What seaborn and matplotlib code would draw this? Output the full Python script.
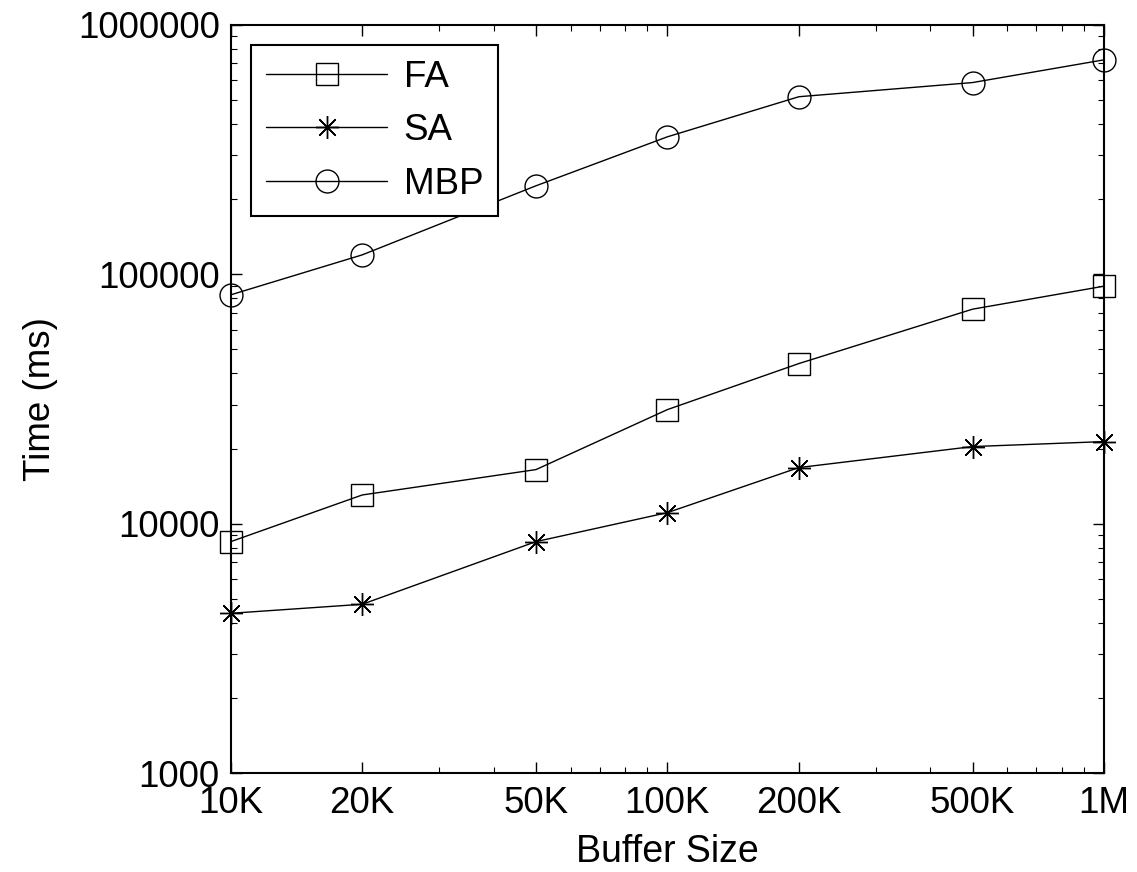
import matplotlib
matplotlib.use("Agg")
import matplotlib.pyplot as plt
import matplotlib.ticker as mticker
import numpy as np
import seaborn as sns

# ── data ──────────────────────────────────────────────────────────────────────
buffer_size = [10_000, 20_000, 50_000, 100_000, 200_000, 500_000, 1_000_000]
buffer_labels = ["10K", "20K", "50K", "100K", "200K", "500K", "1M"]
time_fa  = [8470, 13030, 16470, 28660, 43840, 72440, 89570]
time_sa  = [4370, 4750, 8470, 11070, 16780, 20370, 21330]
time_mbp = [82700, 119600, 226300, 355700, 515000, 587000, 724000]
y_ticks = [1000, 10000, 100000, 1000000]

sns.set_theme(style="ticks")
plt.rcParams["font.family"] = ["Liberation Sans", "DejaVu Sans"]
plt.rcParams.update({"text.color": "black", "axes.labelcolor": "black",
                     "xtick.color": "black", "ytick.color": "black"})
FS = 26.5

fig = plt.figure(figsize=(11.37, 8.72), dpi=100)
ax = fig.add_axes([0.203, 0.1135, 0.768, 0.858])
ax.set_xscale("log"); ax.set_yscale("log")

common = dict(color="black", lw=1.0, markersize=16.5, markerfacecolor="none",
              markeredgecolor="black", markeredgewidth=1.0, clip_on=False, ax=ax)
sns.lineplot(x=buffer_size, y=time_fa,  marker="s", label="FA",  **common)
sns.lineplot(x=buffer_size, y=time_sa,  marker=(8, 2, 0), label="SA", **common)
sns.lineplot(x=buffer_size, y=time_mbp, marker="o", label="MBP", **common)

ax.set_xlim(buffer_size[0], buffer_size[-1])
ax.set_ylim(y_ticks[0], y_ticks[-1])
ax.xaxis.set_major_locator(mticker.FixedLocator(buffer_size))
ax.xaxis.set_major_formatter(mticker.FixedFormatter(buffer_labels))
ax.xaxis.set_minor_locator(mticker.LogLocator(base=10, subs=np.arange(2, 10), numticks=20))
ax.xaxis.set_minor_formatter(mticker.NullFormatter())
ax.yaxis.set_major_locator(mticker.FixedLocator(y_ticks))
ax.yaxis.set_major_formatter(mticker.FuncFormatter(lambda v, p: f"{int(round(v))}"))
ax.yaxis.set_minor_locator(mticker.LogLocator(base=10, subs=np.arange(2, 10), numticks=20))
ax.yaxis.set_minor_formatter(mticker.NullFormatter())

for s in ax.spines.values():
    s.set_visible(True); s.set_linewidth(1.5); s.set_color("black")
ax.tick_params(which="both", direction="in", top=True, right=True, colors="black")
ax.tick_params(which="major", length=8, width=1.0, labelsize=FS)
ax.tick_params(which="minor", length=4, width=0.8)
ax.tick_params(axis="x", which="major", pad=9)
ax.tick_params(axis="y", which="major", pad=8)

ax.set_xlabel("Buffer Size", fontsize=FS + 0.5, labelpad=10, color="black")
ax.set_ylabel("Time (ms)", fontsize=FS, labelpad=14, color="black")

leg = ax.legend(loc="upper left", fontsize=FS, frameon=True, fancybox=False,
                edgecolor="black", framealpha=1, handlelength=3.3, handletextpad=0.45,
                labelspacing=0.5, borderaxespad=0.55, borderpad=0.4)
leg.get_frame().set_linewidth(1.5)
for t in leg.get_texts():
    t.set_color("black")

fig.savefig("out.png", dpi=100)
